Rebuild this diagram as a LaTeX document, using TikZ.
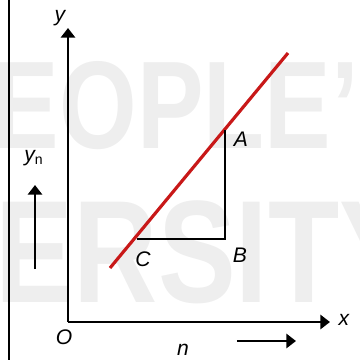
\documentclass[tikz,border=0pt]{standalone}
\usepackage{fontspec}
\setmainfont{Liberation Sans}
\usetikzlibrary{arrows.meta}
\definecolor{wmgray}{RGB}{238,238,238}
\definecolor{linered}{RGB}{200,24,24}
\begin{document}
\begin{tikzpicture}[x=0.02cm, y=-0.02cm, >={Triangle[length=1.9mm, width=2.8mm]},
        lbl/.style={font=\itshape\fontsize{12}{14}\selectfont, inner sep=0pt},
        axis/.style={line width=1.6pt},
        wm/.style={text=wmgray, font=\bfseries, inner sep=0pt, xscale=0.8}]
        \useasboundingbox (0,0) rectangle (360,360);

        % watermark
        \begin{scope}
            \clip (0,0) rectangle (360,360);
            \node[wm, anchor=base west, font=\bfseries\fontsize{71}{71}\selectfont] (wm1) at (-74,148) {PEOPLE'S};
            \node[wm, anchor=base west, font=\bfseries\fontsize{83}{83}\selectfont] (wm2) at (-283,302) {UNIVERSITY};
        \end{scope}

        % frame line on the left
        \coordinate (ftop) at (9,0);
        \coordinate (fbot) at (9,360);
        \draw[line width=1.3pt] (ftop) -- (fbot);

        % axes
        \coordinate (o) at (68,322);
        \coordinate (ytip) at (68,28);
        \coordinate (xtip) at (330,322);
        \draw[axis, ->] (o) -- (ytip);
        \draw[axis, ->] (o) -- (xtip);
        \node[lbl] (ylab) at (60,18) {y};
        \node[lbl] (xlab) at (344,320) {x};
        \node[lbl] (olab) at (64,337) {O};

        % red line
        \coordinate (r1) at (110,268);
        \coordinate (r2) at (288,53);
        \draw[linered, line width=1.8pt] (r1) -- (r2);

        % triangle
        \coordinate (a) at (225,130);
        \coordinate (b) at (225,239);
        \coordinate (c) at (137,239);
        \draw[axis] (a) -- (b) -- (c);
        \node[lbl] (alab) at (241,139) {A};
        \node[lbl] (blab) at (240,255) {B};
        \node[lbl] (clab) at (143,259) {C};

        % direction arrows
        \node[lbl] (yn) at (34,158) {y\textsubscript{\upshape n}};
        \coordinate (ynbot) at (35,269);
        \coordinate (yntop) at (35,185);
        \draw[axis, ->] (ynbot) -- (yntop);
        \node[lbl] (nlab) at (183,350) {n};
        \coordinate (nleft) at (237,341);
        \coordinate (nright) at (296,341);
        \draw[axis, ->] (nleft) -- (nright);
\end{tikzpicture}
\end{document}
